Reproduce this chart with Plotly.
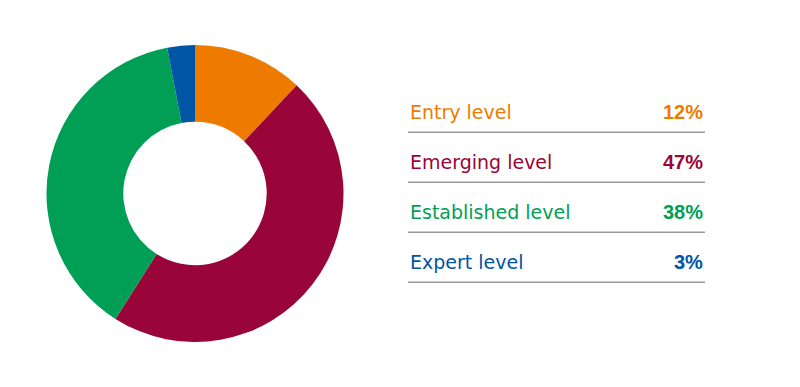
import plotly.graph_objects as go

levels = ["Entry level", "Emerging level", "Established level", "Expert level"]
shares = [12, 47, 38, 3]
colors = ["#EE7B00", "#990538", "#009F55", "#0055A5"]

W, H = 800, 387
OFF = 8  # page body margin

def px_x(x):
    return (x - OFF) / W

def px_y(y):
    return 1 - (y - OFF) / H

fig = go.Figure(go.Pie(
    labels=levels, values=shares, hole=0.483, sort=False,
    direction="clockwise", rotation=0,
    marker=dict(colors=colors, line=dict(width=0)),
    textinfo="none", hoverinfo="label+percent", showlegend=False,
    domain=dict(x=[px_x(46.5), px_x(343.5)], y=[px_y(342.7), px_y(44.3)]),
))

x0, x1 = 408, 705
first_line = 132.3
step = 50
annotations = []
shapes = []
for i, (lab, val, col) in enumerate(zip(levels, shares, colors)):
    ly = first_line + i * step
    ty = ly - 20.5
    annotations.append(dict(x=px_x(x0), y=px_y(ty), xref="paper", yref="paper",
                            text=lab, showarrow=False, xanchor="left", yanchor="middle",
                            font=dict(family="DejaVu Sans", size=19, color=col)))
    annotations.append(dict(x=px_x(x1), y=px_y(ty), xref="paper", yref="paper",
                            text=f"<b>{val}%</b>", showarrow=False, xanchor="right", yanchor="middle",
                            font=dict(family="Liberation Sans, Arial", size=20, color=col)))
    shapes.append(dict(type="line", xref="paper", yref="paper",
                       x0=px_x(x0), x1=px_x(x1), y0=px_y(ly), y1=px_y(ly),
                       line=dict(color="#9A9A9A", width=1.6)))

fig.update_layout(width=W, height=H, margin=dict(l=0, r=0, t=0, b=0),
                  paper_bgcolor="white", plot_bgcolor="white",
                  annotations=annotations, shapes=shapes)
fig.write_html("out.html")
